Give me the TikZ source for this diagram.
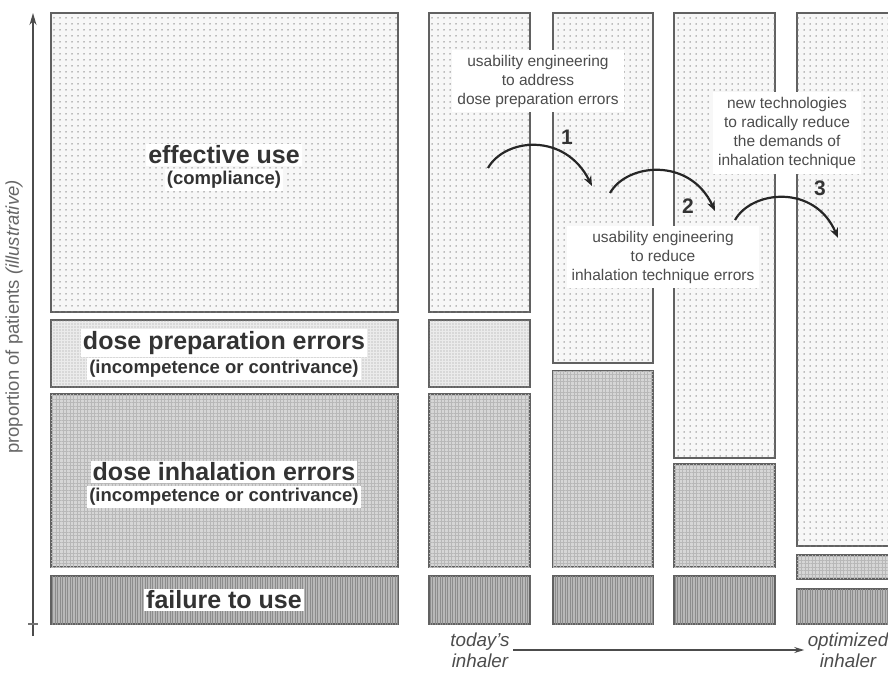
\documentclass[tikz,border=0pt]{standalone}
\usepackage{fontspec}
\setmainfont{Liberation Sans}
\usetikzlibrary{arrows.meta,patterns.meta,positioning}

\begin{document}
\begin{tikzpicture}[x=1pt,y=-1pt,
  frame/.style={draw=black!62,line width=1.8pt},
  effuse/.style={frame,fill=black!3,postaction={pattern={Dots[distance=6pt,radius=0.75pt]},pattern color=black!50}},
  prep/.style={frame,fill=black!8,postaction={pattern={Dots[distance=3pt,radius=0.55pt]},pattern color=black!40}},
  inhal/.style={frame,fill=black!16,postaction={pattern={Hatch[distance=3.5pt,line width=0.6pt]},pattern color=black!28}},
  fail/.style={frame,fill=black!28,postaction={pattern={Lines[angle=90,distance=2.5pt,line width=0.8pt]},pattern color=black!45}},
  big/.style={fill=white,inner sep=2pt,text=black!80,font=\fontsize{25}{28}\selectfont\bfseries},
  sub/.style={fill=white,inner sep=2pt,text=black!80,font=\fontsize{18.5}{22}\selectfont\bfseries},
  note/.style={fill=white,align=center,inner sep=5pt,text=black!70,font=\fontsize{15.5}{19}\selectfont},
  hop/.style={-{Stealth[length=10pt,width=8pt]},line width=2.2pt,black!85},
  num/.style={text=black!80,font=\fontsize{21}{24}\selectfont\bfseries},
  ends/.style={align=center,text=black!70,font=\fontsize{18.8}{21}\selectfont\itshape}]
\clip (0,0) rectangle (888,672);

% y axis
\coordinate (ybot) at (33,636);
\coordinate (ytop) at (33,13);
\draw [line width=1.4pt,-{Stealth[length=12pt,width=7pt]},black!70] (ybot) -- (ytop);
\draw [black!55,line width=1.2pt] (28,624) -- (38,624);
\node [rotate=90,text=black!60,font=\fontsize{18.5}{22}\selectfont] (ylab) at (14,317) {proportion of patients \textit{(illustrative)}};

% legend column
\draw [effuse] (51,13) rectangle (398,312);
\draw [prep] (51,320) rectangle (398,387);
\draw [inhal] (51,394) rectangle (398,567);
\draw [fail] (51,576) rectangle (398,624);

% today's inhaler
\draw [effuse] (429,13) rectangle (530,312);
\draw [prep] (429,320) rectangle (530,387);
\draw [inhal] (429,394) rectangle (530,567);
\draw [fail] (429,576) rectangle (530,624);

% step 1
\draw [effuse] (553,13) rectangle (653,363);
\draw [inhal] (553,371) rectangle (653,567);
\draw [fail] (553,576) rectangle (653,624);

% step 2
\draw [effuse] (674,13) rectangle (775,458);
\draw [inhal] (674,464) rectangle (775,567);
\draw [fail] (674,576) rectangle (775,624);

% optimized inhaler
\draw [effuse] (797,13) rectangle (900,546);
\draw [inhal] (797,555) rectangle (900,579);
\draw [fail] (797,589) rectangle (900,624);

% labels of the legend column
\node [big] (eff) at (224,155) {effective use};
\node [sub] (effsub) at (224,180) {(compliance)};
\node [big] (prepl) at (224,343) {dose preparation errors};
\node [sub] (prepsub) at (224,369) {(incompetence or contrivance)};
\node [big] (inhl) at (224,472) {dose inhalation errors};
\node [sub] (inhsub) at (224,497) {(incompetence or contrivance)};
\node [big] (faill) at (224,600) {failure to use};

% notes
\node [note] (n1) at (538,81) {usability engineering\\to address\\dose preparation errors};
\node [note] (n2) at (663,257) {usability engineering\\to reduce\\inhalation technique errors};
\node [note] (n3) at (787,133) {new technologies\\to radically reduce\\the demands of\\inhalation technique};

% improvement steps
\coordinate (s1a) at (488,168);
\coordinate (s1b) at (592,186);
\coordinate (s2a) at (610,193);
\coordinate (s2b) at (715,211);
\coordinate (s3a) at (735,220);
\coordinate (s3b) at (838,238);
\draw [hop] (s1a) .. controls (505,138) and (565,132) .. (s1b);
\draw [hop] (s2a) .. controls (627,163) and (690,157) .. (s2b);
\draw [hop] (s3a) .. controls (752,190) and (815,184) .. (s3b);
\node [num] (k1) at (567,137) {1};
\node [num] (k2) at (688,206) {2};
\node [num] (k3) at (820,188) {3};

% bottom axis
\node [ends] (today) at (480,650) {today’s\\inhaler};
\node [ends] (optim) at (848,650) {optimized\\inhaler};
\draw [black!70,line width=1.4pt,-{Stealth[length=10pt,width=6pt]}] (today.east) -- (optim.west);
\end{tikzpicture}
\end{document}
